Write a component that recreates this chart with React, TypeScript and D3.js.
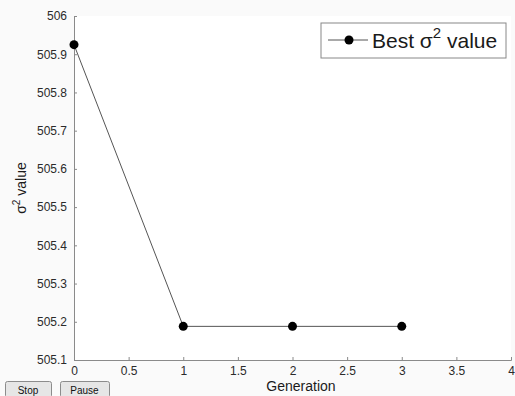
import { useEffect, useRef } from 'react'
import * as d3 from 'd3'

const generations = [0, 1, 2, 3]
const bestValues = [505.925, 505.188, 505.188, 505.188]
const xTicks = [0, 0.5, 1, 1.5, 2, 2.5, 3, 3.5, 4]
const yTicks = [505.1, 505.2, 505.3, 505.4, 505.5, 505.6, 505.7, 505.8, 505.9, 506]

const W = 515
const H = 396
const FONT = 'Liberation Sans, Arial, sans-serif'

export default function App() {
  const svgRef = useRef<SVGSVGElement>(null)

  useEffect(() => {
    if (!svgRef.current) return
    const svg = d3.select(svgRef.current)
    svg.selectAll('*').remove()

    const margin = { top: 16, right: 4, bottom: 36, left: 74 }
    const x = d3.scaleLinear().domain([0, 4]).range([margin.left, W - margin.right])
    const y = d3.scaleLinear().domain([505.1, 506]).range([H - margin.bottom, margin.top])

    svg.append('rect').attr('width', W).attr('height', H).style('fill', '#fafafa')
    svg.append('rect')
      .attr('x', margin.left).attr('y', margin.top)
      .attr('width', W - margin.right - margin.left)
      .attr('height', H - margin.bottom - margin.top)
      .style('fill', '#ffffff')

    // axes (left and bottom only, ticks inward)
    const xAxis = d3.axisBottom(x).tickValues(xTicks).tickSize(-3).tickPadding(6)
      .tickFormat(d => d3.format('')(+d))
    const gx = svg.append('g').attr('transform', `translate(0,${H - margin.bottom})`).call(xAxis)
    const yAxis = d3.axisLeft(y).tickValues(yTicks).tickSize(-3).tickPadding(7)
      .tickFormat(d => String(+(+d).toFixed(1)))
    const gy = svg.append('g').attr('transform', `translate(${margin.left},0)`).call(yAxis)

    ;[gx, gy].forEach(g => {
      g.select('.domain').style('stroke', '#8a8a8a')
      g.selectAll('.tick line').style('stroke', '#8a8a8a')
      g.selectAll('.tick text')
        .style('fill', '#2a2a2a')
        .style('font-size', '12px')
        .style('font-family', FONT)
    })

    // series line
    const line = d3.line<number>()
      .x((_, i) => x(generations[i]))
      .y(d => y(d))
    svg.append('path')
      .datum(bestValues)
      .attr('d', line)
      .style('fill', 'none')
      .style('stroke', '#555')
      .style('stroke-width', '1px')

    svg.selectAll('circle.pt')
      .data(bestValues)
      .enter()
      .append('circle')
      .attr('class', 'pt')
      .attr('cx', (_, i) => x(generations[i]))
      .attr('cy', d => y(d))
      .attr('r', 4.5)
      .style('fill', '#000')

    // axis labels
    svg.append('text')
      .attr('x', 301)
      .attr('y', 391)
      .attr('text-anchor', 'middle')
      .style('fill', '#1a1a1a')
      .style('font-size', '14px')
      .style('font-family', FONT)
      .text('Generation')

    const yl = svg.append('text')
      .attr('transform', `translate(26,${(margin.top + H - margin.bottom) / 2}) rotate(-90)`)
      .attr('text-anchor', 'middle')
      .style('fill', '#1a1a1a')
      .style('font-size', '14px')
      .style('font-family', FONT)
    yl.append('tspan').text('σ')
    yl.append('tspan').attr('dy', -6).style('font-size', '10px').text('2')
    yl.append('tspan').attr('dy', 6).text(' value')

    // legend
    const lg = svg.append('g').attr('transform', 'translate(321,23)')
    lg.append('rect')
      .attr('width', 185).attr('height', 35)
      .style('fill', '#fff')
      .style('stroke', '#888')
      .style('stroke-width', '1px')
    lg.append('line')
      .attr('x1', 7).attr('x2', 47).attr('y1', 17).attr('y2', 17)
      .style('stroke', '#555')
    lg.append('circle').attr('cx', 28).attr('cy', 17).attr('r', 4.5).style('fill', '#000')
    const lt = lg.append('text')
      .attr('x', 51).attr('y', 25)
      .style('fill', '#1a1a1a')
      .style('font-size', '21px')
      .style('font-family', FONT)
    lt.append('tspan').text('Best σ')
    lt.append('tspan').attr('dy', -10).style('font-size', '15px').text('2')
    lt.append('tspan').attr('dy', 10).text(' value')

    // buttons
    const buttons = [
      { label: 'Stop', x: 5, w: 46 },
      { label: 'Pause', x: 60, w: 49 }
    ]
    buttons.forEach(b => {
      svg.append('rect')
        .attr('x', b.x + 0.5).attr('y', 381.5)
        .attr('width', b.w).attr('height', 16)
        .attr('rx', 2)
        .style('fill', '#e6e6e6')
        .style('stroke', '#8c8c8c')
      svg.append('text')
        .attr('x', b.x + b.w / 2).attr('y', 394)
        .attr('text-anchor', 'middle')
        .style('fill', '#111')
        .style('font-size', '10px')
        .style('font-family', FONT)
        .text(b.label)
    })
  }, [])

  return (
    <div style={{ position: 'absolute', left: 0, top: 0 }}>
      <svg ref={svgRef} width={W} height={H} style={{ display: 'block' }} />
    </div>
  )
}
